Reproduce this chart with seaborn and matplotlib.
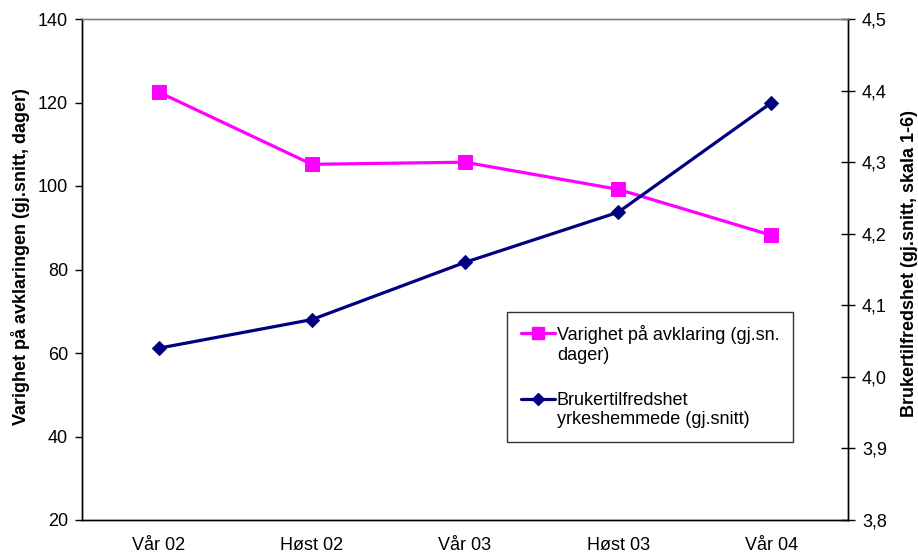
import matplotlib
matplotlib.use("Agg")
import matplotlib.pyplot as plt
import seaborn as sns
import pandas as pd
from matplotlib.lines import Line2D
from matplotlib.legend_handler import HandlerLine2D

categories = ["Vår 02", "Høst 02", "Vår 03", "Høst 03", "Vår 04"]
varighet = [122.5, 105.2, 105.7, 99.2, 88.2]
tilfredshet = [4.04, 4.08, 4.16, 4.23, 4.383]
left_ticks = [20, 40, 60, 80, 100, 120, 140]
right_ticks = [3.8, 3.9, 4.0, 4.1, 4.2, 4.3, 4.4, 4.5]

sns.set_style("white")
plt.rcParams['font.family'] = ['Liberation Sans', 'DejaVu Sans']
plt.rcParams['text.color'] = 'black'
plt.rcParams['axes.labelcolor'] = 'black'
plt.rcParams['xtick.color'] = 'black'
plt.rcParams['ytick.color'] = 'black'

df = pd.DataFrame({"x": range(len(categories)), "varighet": varighet, "tilfredshet": tilfredshet})

fig = plt.figure(figsize=(9.18, 5.57), dpi=100)
ax = fig.add_axes([82/918, 37/557, 766/918, 501/557])
ax2 = ax.twinx()

pink = "#FF00FF"
navy = "#000080"

sns.lineplot(data=df, x="x", y="varighet", ax=ax, color=pink, marker="s", markersize=10,
             markeredgecolor=pink, linewidth=2.3, legend=False)
sns.lineplot(data=df, x="x", y="tilfredshet", ax=ax2, color=navy, marker="D", markersize=7,
             markeredgecolor=navy, linewidth=2.3, legend=False)

ax.set_xlim(-0.5, len(categories) - 0.5)
ax.set_ylim(20, 140)
ax2.set_ylim(3.8, 4.5)
ax.set_yticks(left_ticks)
ax.set_yticklabels([str(t) for t in left_ticks], fontsize=13, color="black")
ax2.set_yticks(right_ticks)
ax2.set_yticklabels([f"{t:.1f}".replace(".", ",") for t in right_ticks], fontsize=13, color="black")

# x ticks at category boundaries, labels at centers
ax.set_xticks([i - 0.5 for i in range(len(categories) + 1)])
ax.set_xticklabels([])
ax.set_xticks(range(len(categories)), minor=True)
ax.set_xticklabels(categories, minor=True, fontsize=13, color="black")
ax.tick_params(axis="x", which="minor", length=0, pad=12)
ax.tick_params(axis="x", which="major", direction="inout", length=11, width=1, color="black")
ax.tick_params(axis="y", direction="out", length=5, width=1, color="black", left=True, pad=5)
ax2.tick_params(axis="y", direction="inout", length=10, width=1, color="black", right=True, pad=5)

ax.set_xlabel("")
ax.set_ylabel("Varighet på avklaringen (gj.snitt, dager)", fontsize=13, fontweight="bold", color="black")
ax2.set_ylabel("Brukertilfredshet (gj.snitt, skala 1-6)", fontsize=13, fontweight="bold", color="black")
ax.yaxis.set_label_coords(-0.068, 0.525)
ax2.yaxis.set_label_coords(1.069, 0.511)

for a in (ax, ax2):
    a.spines["top"].set_color("#808080")
    a.spines["left"].set_color("black")
    a.spines["right"].set_color("black")
    a.spines["bottom"].set_color("black")
    for s in a.spines.values():
        s.set_linewidth(1)
    a.grid(False)


class TopHandler(HandlerLine2D):
    def create_artists(self, legend, orig_handle, xdescent, ydescent, width, height,
                       fontsize, trans):
        arts = super().create_artists(legend, orig_handle, xdescent, ydescent, width,
                                      height, fontsize, trans)
        shift = fontsize * 0.62
        for a in arts:
            a.set_ydata([y + shift for y in a.get_ydata()])
        return arts


handles = [
    Line2D([], [], color=pink, marker="s", markersize=8, linewidth=2.3),
    Line2D([], [], color=navy, marker="D", markersize=6, linewidth=2.3),
]
labels = ["Varighet på avklaring (gj.sn.\ndager)", "Brukertilfredshet\nyrkeshemmede (gj.snitt)"]
leg = ax2.legend(handles, labels, loc="upper left", bbox_to_anchor=(0.555, 0.416),
                 fontsize=13, frameon=True, fancybox=False, edgecolor="black",
                 handlelength=1.9, handletextpad=0.1, labelspacing=1.55,
                 borderpad=0.75, borderaxespad=0,
                 handler_map={Line2D: TopHandler()})
leg.get_frame().set_linewidth(1)
for t in leg.get_texts():
    t.set_color("black")

fig.savefig("out.png", dpi=100)
